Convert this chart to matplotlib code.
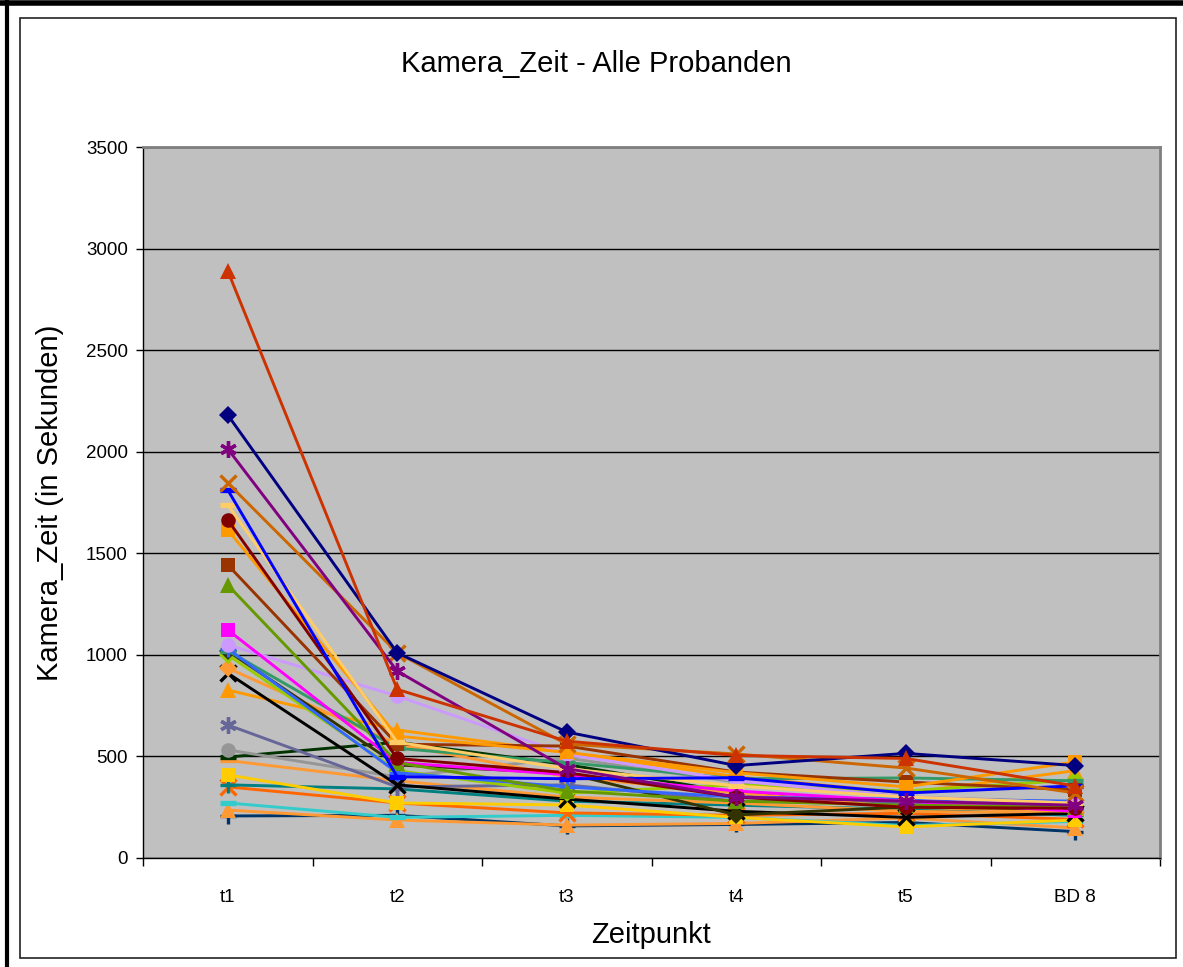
import matplotlib
matplotlib.use('Agg')
import matplotlib.pyplot as plt
from matplotlib.lines import Line2D
from matplotlib.patches import Rectangle

plt.rcParams['font.family'] = ['Liberation Sans', 'DejaVu Sans']

categories = ['t1', 't2', 't3', 't4', 't5', 'BD 8']
y_ticks = [0, 500, 1000, 1500, 2000, 2500, 3000, 3500]

title_text = 'Kamera_Zeit - Alle Probanden'
x_label = 'Zeitpunkt'
y_label = 'Kamera_Zeit (in Sekunden)'

# one list per proband (values at t1..BD 8)
p01 = [2890, 830, 575, 505, 490, 355]
p02 = [2181, 1010, 620, 455, 515, 455]
p03 = [2014, 920, 440, 300, 280, 260]
p04 = [1846, 1010, 560, 512, 443, 320]
p05 = [1812, 400, 390, 395, 320, 355]
p06 = [1738, 570, 440, 355, 300, 270]
p07 = [1664, 490, 420, 300, 250, 245]
p08 = [1615, 600, 520, 420, 350, 473]
p09 = [1443, 560, 551, 423, 374, 335]
p10 = [1344, 470, 330, 280, 260, 250]
p11 = [1123, 470, 410, 330, 280, 230]
p12 = [1049, 797, 510, 380, 300, 270]
p13 = [1030, 420, 350, 300, 290, 280]
p14 = [1020, 540, 470, 390, 394, 380]
p15 = [1019, 458, 418, 212, 251, 241]
p16 = [1000, 430, 320, 360, 330, 384]
p17 = [935, 560, 400, 320, 250, 230]
p18 = [910, 360, 290, 230, 200, 220]
p19 = [827, 630, 520, 400, 320, 430]
p20 = [655, 350, 360, 280, 270, 260]
p21 = [532, 399, 492, 374, 300, 276]
p22 = [497, 570, 460, 320, 250, 245]
p23 = [480, 380, 300, 270, 230, 220]
p24 = [409, 271, 261, 200, 153, 187]
p25 = [360, 340, 280, 260, 240, 210]
p26 = [350, 271, 222, 210, 220, 190]
p27 = [271, 200, 210, 200, 160, 180]
p28 = [236, 187, 162, 170, 197, 148]
p29 = [207, 210, 158, 165, 175, 130]

series_values = [p29, p28, p27, p26, p25, p24, p23, p22, p21, p20, p19, p18,
                 p17, p16, p15, p14, p13, p12, p11, p10, p09, p08, p07, p06,
                 p05, p04, p03, p02, p01]
series_colors = ['#003366', '#FF9933', '#33CCCC', '#FF6600', '#008080', '#FFCC00',
                 '#FF9933', '#003300', '#969696', '#666699', '#FF9900', '#000000',
                 '#FF9933', '#99CC00', '#333300', '#339966', '#3366FF', '#CC99FF',
                 '#FF00FF', '#669900', '#993300', '#FF9900', '#800000', '#FFCC66',
                 '#0000FF', '#CC6600', '#800080', '#000080', '#CC3300']
series_markers = ['+', '^', '_', 'x', '+', 's',
                  '_', '_', 'o', 'star', '^', 'x',
                  'D', 'D', 'D', '_', '+', 'o',
                  's', '^', 's', 's', 'o', '_',
                  '_', 'x', 'star', 'D', '^']

fig = plt.figure(figsize=(11.83, 9.67), dpi=100)
fig.patch.set_facecolor('white')
ax = fig.add_axes([143 / 1183, 1 - 858 / 967, (1160 - 143) / 1183, (858 - 147) / 967])
ax.set_facecolor('#C0C0C0')

xs = list(range(len(categories)))
for vals, col, mk in zip(series_values, series_colors, series_markers):
    kw = dict(color=col, lw=2.1, solid_joinstyle='round', clip_on=False)
    if mk == 'star':
        kw.update(marker=(6, 2, 0), ms=12, mew=2.4)
    elif mk in ('x', '+'):
        kw.update(marker=mk, ms=11, mew=2.4)
    elif mk == '_':
        kw.update(marker='_', ms=12, mew=3.8)
    elif mk == '^':
        kw.update(marker='^', ms=11, mew=0)
    elif mk == 'D':
        kw.update(marker='D', ms=9, mew=0)
    elif mk == 's':
        kw.update(marker='s', ms=9.5, mew=0)
    else:
        kw.update(marker='o', ms=10.5, mew=0)
    ax.plot(xs, vals, **kw)

ax.set_xlim(-0.5, len(categories) - 0.5)
ax.set_ylim(0, 3500)
ax.set_yticks(y_ticks)
ax.set_yticklabels([str(v) for v in y_ticks], fontsize=13.5)
ax.yaxis.grid(True, color='black', lw=1)
ax.set_axisbelow(True)

ax.set_xticks(xs)
ax.set_xticklabels(categories, fontsize=13.5)
ax.set_xticks([i - 0.5 for i in range(len(categories) + 1)], minor=True)
ax.tick_params(axis='x', which='major', length=0, pad=22)
ax.tick_params(axis='x', which='minor', length=6, width=1, color='black', direction='out')
ax.tick_params(axis='y', which='major', length=5, width=1, direction='out', pad=6)

for side in ['top', 'right']:
    ax.spines[side].set_color('#808080')
    ax.spines[side].set_linewidth(2)
for side in ['left', 'bottom']:
    ax.spines[side].set_color('black')
    ax.spines[side].set_linewidth(1)

fig.text(596 / 1183, 1 - 64 / 967, title_text, ha='center', va='center', fontsize=21)
fig.text(651 / 1183, 1 - 935 / 967, x_label, ha='center', va='center', fontsize=21)
fig.text(50 / 1183, 1 - 503 / 967, y_label, ha='center', va='center', fontsize=21, rotation=90)

# outer frame
fig.add_artist(Rectangle((20 / 1183, 1 - 958 / 967), (1176 - 20) / 1183, (958 - 18) / 967,
                         transform=fig.transFigure, fill=False, ec='#222222', lw=1.2))
fig.add_artist(Line2D([0, 1], [1 - 2.5 / 967, 1 - 2.5 / 967], transform=fig.transFigure,
                      color='black', lw=4))
fig.add_artist(Line2D([6.5 / 1183, 6.5 / 1183], [0, 1], transform=fig.transFigure,
                      color='black', lw=3))

fig.savefig('out.png', dpi=100, facecolor='white')
